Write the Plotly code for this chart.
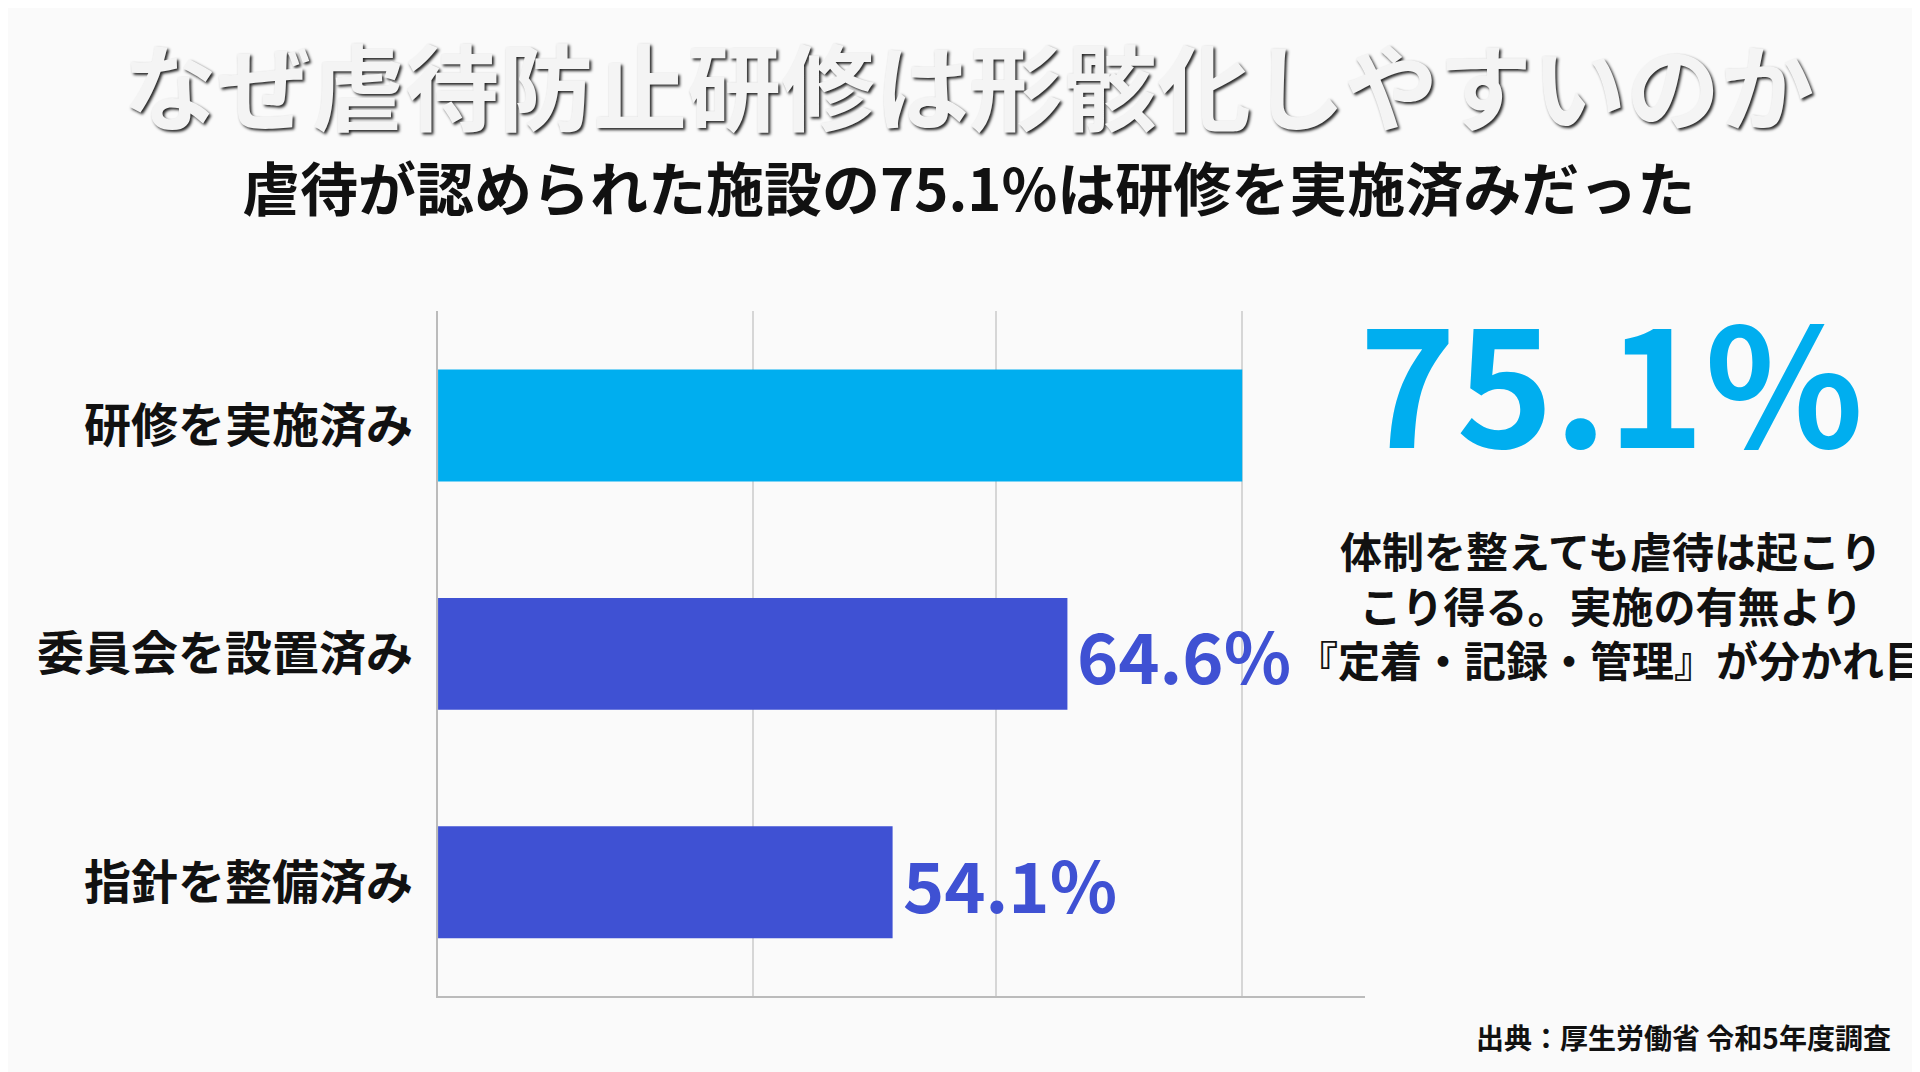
import plotly.graph_objects as go

# data
categories = ["研修を実施済み", "委員会を設置済み", "指針を整備済み"]
values = [75.1, 64.6, 54.1]
bar_colors = ["#00AEEF", "#3F51D3", "#3F51D3"]
value_labels = ["", "64.6%", "54.1%"]

FONT = "Noto Sans CJK JP"

fig = go.Figure()
fig.add_trace(go.Bar(
    y=categories, x=values, orientation="h",
    marker=dict(color=bar_colors, line=dict(width=0)),
    width=0.49, showlegend=False,
))

# value labels at bar ends
for cat, v, lab in zip(categories, values, value_labels):
    if lab:
        fig.add_annotation(x=v, y=cat, xref="x", yref="y", text=lab,
                           showarrow=False, xanchor="left", xshift=8,
                           font=dict(family=FONT, size=70, color="#3F51D3", weight="bold"))

# title / subtitle
fig.add_annotation(x=0.5, y=0.995, xref="paper", yref="paper", xanchor="center", yanchor="top",
                   text="なぜ虐待防止研修は形骸化しやすいのか", showarrow=False,
                   font=dict(family=FONT, size=94, color="#f4f4f4", weight="bold",
                             shadow="2px 2px 3px rgba(0,0,0,0.85)"))
fig.add_annotation(x=0.5, y=0.875, xref="paper", yref="paper", xanchor="center", yanchor="top",
                   text="虐待が認められた施設の75.1%は研修を実施済みだった", showarrow=False,
                   font=dict(family=FONT, size=58, color="#111111", weight="bold"))

# big callout
fig.add_annotation(x=0.835, y=0.77, xref="paper", yref="paper", xanchor="center", yanchor="top",
                   text="75.1%", showarrow=False,
                   font=dict(family=FONT, size=165, color="#00AEEF", weight="bold"))
fig.add_annotation(x=0.835, y=0.525, xref="paper", yref="paper", xanchor="center", yanchor="top",
                   text="体制を整えても虐待は起こり<br>こり得る。実施の有無より<br>『定着・記録・管理』が分かれ目",
                   showarrow=False, align="center",
                   font=dict(family=FONT, size=42, color="#111111", weight="bold"))

# source
fig.add_annotation(x=0.982, y=0.02, xref="paper", yref="paper", xanchor="right", yanchor="bottom",
                   text="出典：厚生労働省 令和5年度調査", showarrow=False,
                   font=dict(family=FONT, size=28, color="#111111", weight="bold"))

fig.update_layout(
    width=1920, height=1072,
    paper_bgcolor="#fafafa", plot_bgcolor="#fafafa",
    margin=dict(l=0, r=0, t=0, b=0),
    xaxis=dict(domain=[0.224, 0.707], range=[26.8, 82.5],
               tickvals=[45.7, 60.3, 75.1], showticklabels=False,
               showgrid=True, gridcolor="#d6d6d6", gridwidth=1.5,
               zeroline=False, showline=True, linecolor="#bbbbbb", linewidth=1.5),
    yaxis=dict(domain=[0.078, 0.717], autorange="reversed",
               showline=True, linecolor="#bbbbbb", linewidth=1.5,
               ticks="", ticklabelstandoff=14,
               tickfont=dict(family=FONT, size=47, color="#111111", weight="bold")),
)

fig.write_html("out.html")
